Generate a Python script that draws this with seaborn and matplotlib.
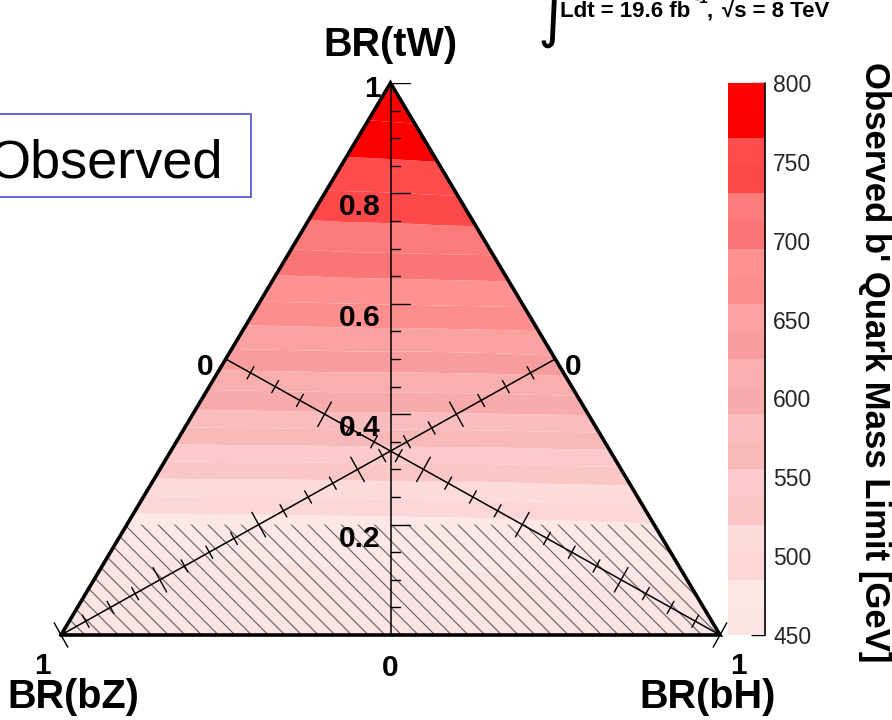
import numpy as np
import matplotlib
matplotlib.use("Agg")
import matplotlib.pyplot as plt
import matplotlib.tri as mtri
from matplotlib.patches import Polygon, Rectangle
import seaborn as sns

# Observed lower limit on the b' quark mass (GeV) on a 0.1 grid of branching fractions.
# One row per BR(tW); entries run from BR(bH)=0 (left edge) to BR(bH)=1-BR(tW) (right edge).
br_tw_rows = [0.0, 0.1, 0.2, 0.3, 0.4, 0.5, 0.6, 0.7, 0.8, 0.9, 1.0]
br_bh_steps = [0.0, 0.1, 0.2, 0.3, 0.4, 0.5, 0.6, 0.7, 0.8, 0.9, 1.0]
limit_rows = [
    [452, 453, 454, 455, 455, 456, 456, 457, 457, 458, 458],
    [462, 462, 463, 464, 465, 465, 466, 466, 467, 467],
    [474, 475, 475, 476, 477, 478, 480, 482, 484],
    [529, 530, 530, 531, 532, 532, 534, 535],
    [586, 587, 588, 588, 589, 590, 591],
    [635, 636, 637, 637, 638, 640],
    [676, 677, 678, 679, 680],
    [713, 715, 716, 717],
    [746, 747, 749],
    [775, 777],
    [798],
]

# Contour levels of the mass limit and the colour of each band (low to high)
limit_levels = [450 + 17.5 * i for i in range(21)]
band_colors = [
    "#fce4e4", "#fde7e7", "#fcd7d7", "#fddbdb", "#fac6c6",
    "#fccaca", "#f8b9b9", "#fabdbd", "#f8abab", "#faafaf",
    "#f89d9d", "#faa1a1", "#fc8e8e", "#fe9292", "#fa7676",
    "#fe7b7b", "#fc4848", "#ff4c4c", "#fa0000", "#ff0000",
]
cbar_ticks = [450, 500, 550, 600, 650, 700, 750, 800]
tw_tick_labels = ["0.2", "0.4", "0.6", "0.8"]
excluded_tw_max = 0.2

sns.set_style("white")
plt.rcParams["font.family"] = ["Liberation Sans", "DejaVu Sans"]
plt.rcParams["hatch.linewidth"] = 0.8

W, H = 892, 720
fig = plt.figure(figsize=(W / 100, H / 100), dpi=100)

# Triangle frame in pixels: base from x=61 to x=720 at y=635, apex at y=83
X0, X1, YB, YT = 61, 720, 635, 83
SX, SY = float(X1 - X0), float(YB - YT)
ax = fig.add_axes([X0 / W, (H - YB) / H, SX / W, SY / H])
ax.set_xlim(0, 1)
ax.set_ylim(0, 1)
ax.axis("off")


def tern(tw, bh):
    """Ternary (BR(tW), BR(bH)) -> axes coordinates."""
    return bh + 0.5 * tw, tw


def fig_xy(px, py):
    return px / W, 1 - py / H


# Points of the limit grid
px_, py_, pz_ = [], [], []
for tw, row in zip(br_tw_rows, limit_rows):
    for k, val in enumerate(row):
        x, y = tern(tw, br_bh_steps[k])
        px_.append(x)
        py_.append(y)
        pz_.append(val)
triang = mtri.Triangulation(np.array(px_), np.array(py_))
cs = ax.tricontourf(triang, np.array(pz_), levels=limit_levels, colors=band_colors,
                    antialiased=True, zorder=1)

# Hatched region: BR(tW) below the lower validity bound
hx0, hy0 = tern(0, 0)
hx1, hy1 = tern(0, 1)
hx2, hy2 = tern(excluded_tw_max, 1 - excluded_tw_max)
hx3, hy3 = tern(excluded_tw_max, 0)
ax.add_patch(Polygon([[hx0, hy0], [hx1, hy1], [hx2, hy2], [hx3, hy3]], closed=True,
                     facecolor="none", edgecolor="#606060", linewidth=0,
                     hatch="\\\\", zorder=2))

# BR(tW) axis: vertical median with ticks to the right
ax.plot([0.5, 0.5], [0, 1], color="black", lw=1.1, zorder=3, solid_capstyle="butt")
for i in range(1, 21):
    v = i * 0.05
    major = (i % 4 == 0) or i == 20
    ln = (19 if major else 9) / SX
    ax.plot([0.5, 0.5 + ln], [v, v], color="black", lw=1.0, zorder=3)


def median_axis(p0, p1):
    p0, p1 = np.array(p0), np.array(p1)
    ax.plot([p0[0], p1[0]], [p0[1], p1[1]], color="black", lw=1.1, zorder=3)
    d = np.array([(p1[0] - p0[0]) * SX, (p1[1] - p0[1]) * SY])
    d /= np.hypot(*d)
    nrm = np.array([-d[1], d[0]])
    for i in range(1, 21):
        v = i * 0.05
        major = (i % 4 == 0) or i == 20
        half = 14 if major else 7
        c = p0 + v * (p1 - p0)
        off = nrm * half / np.array([SX, SY])
        ax.plot([c[0] - off[0], c[0] + off[0]], [c[1] - off[1], c[1] + off[1]],
                color="black", lw=1.0, zorder=3, clip_on=False)


# BR(bH): from the left-edge midpoint to the bH vertex; BR(bZ): right-edge midpoint to bZ vertex
median_axis(tern(0.5, 0.0), tern(0.0, 1.0))
median_axis(tern(0.5, 0.5), tern(0.0, 0.0))

# Triangle outline
tri_x = [tern(0, 0)[0], tern(0, 1)[0], tern(1, 0)[0], tern(0, 0)[0]]
tri_y = [tern(0, 0)[1], tern(0, 1)[1], tern(1, 0)[1], tern(0, 0)[1]]
ax.plot(tri_x, tri_y, color="black", lw=2.6, zorder=4, solid_joinstyle="miter",
        clip_on=False)

# Tick labels on the BR(tW) axis
bold = dict(fontweight="bold", color="black")
LAB = 21.5
for lab in tw_tick_labels:
    v = float(lab)
    ax.text((381 - X0) / SX, v - 14 / SY, lab, ha="right", va="center", fontsize=LAB, **bold)
fig.text(*fig_xy(381, 89), "1", ha="right", va="center", fontsize=LAB, **bold)
fig.text(*fig_xy(205, 367), "0", ha="center", va="center", fontsize=LAB, **bold)
fig.text(*fig_xy(573, 367), "0", ha="center", va="center", fontsize=LAB, **bold)
fig.text(*fig_xy(42, 666), "1", ha="center", va="center", fontsize=LAB, **bold)
fig.text(*fig_xy(390, 668), "0", ha="center", va="center", fontsize=LAB, **bold)
fig.text(*fig_xy(738, 666), "1", ha="center", va="center", fontsize=LAB, **bold)

# Axis titles
fig.text(*fig_xy(390, 56), "BR(tW)", ha="center", va="baseline", fontsize=28.5, **bold)
fig.text(*fig_xy(73, 708), "BR(bZ)", ha="center", va="baseline", fontsize=28.5, **bold)
fig.text(*fig_xy(708, 708), "BR(bH)", ha="center", va="baseline", fontsize=28.5, **bold)

# Luminosity and energy
fig.text(*fig_xy(537, 36), r"$\int$", ha="left", va="baseline", fontsize=30, color="black")
fig.text(*fig_xy(560, 17), "Ldt = 19.6 fb", ha="left", va="baseline", fontsize=16, **bold)
fig.text(*fig_xy(694, 3), "-1", ha="left", va="baseline", fontsize=11, **bold)
fig.text(*fig_xy(707, 17), ",", ha="left", va="baseline", fontsize=16, **bold)
fig.text(*fig_xy(722, 17), "\u221as = 8 TeV", ha="left", va="baseline", fontsize=16, **bold)

# Legend box
fig.patches.append(Rectangle(fig_xy(-5, 197), 256 / W, 83 / H, transform=fig.transFigure,
                             facecolor="white", edgecolor="#4a4fd0", linewidth=1.2))
fig.text(*fig_xy(-12, 177), "Observed", ha="left", va="baseline", fontsize=39, color="black")

# Colour scale
cax = fig.add_axes([728 / W, (H - YB) / H, 37 / W, SY / H])
cbar = fig.colorbar(cs, cax=cax, ticks=cbar_ticks)
cbar.outline.set_visible(False)
cbar.set_ticklabels([str(t) for t in cbar_ticks])
cax.tick_params(axis="y", direction="in", length=10, width=1.0, color="black",
                labelsize=16.5, pad=6, right=True, left=False)
cax.plot([1, 1], [0, 1], transform=cax.transAxes, color="black", lw=1.2, clip_on=False)
fig.text(*fig_xy(874, 362), "Observed b' Quark Mass Limit [GeV]", rotation=-90,
         ha="center", va="center", fontsize=25, **bold)

fig.savefig("out.png", dpi=100)
